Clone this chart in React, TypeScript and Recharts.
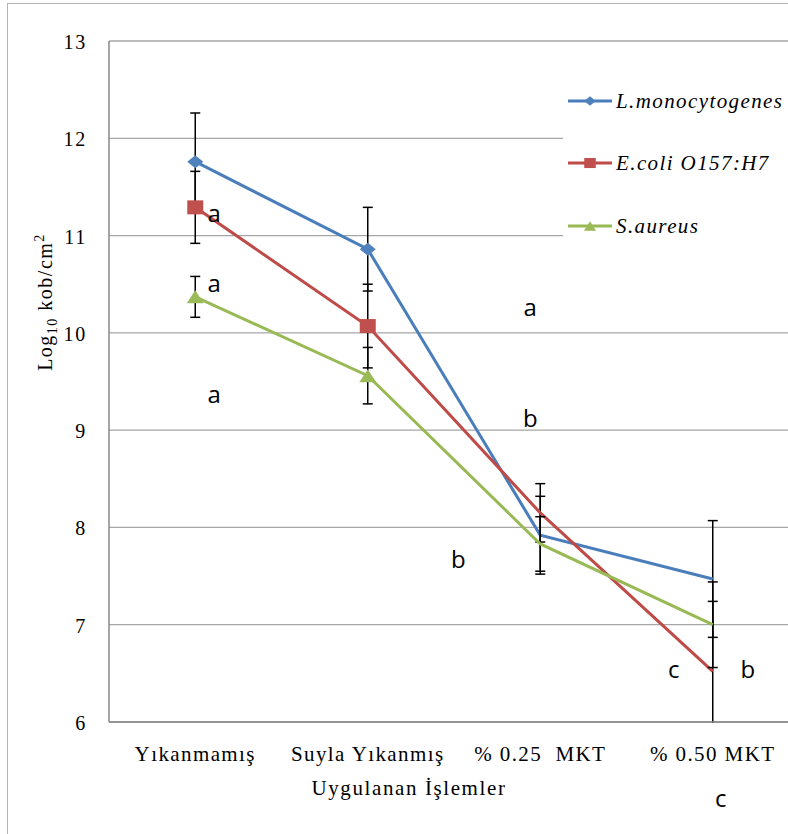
import { LineChart, Line, XAxis, YAxis, CartesianGrid, ErrorBar, ReferenceDot } from 'recharts';

const categories = ['Yıkanmamış', 'Suyla Yıkanmış', '% 0.25  MKT', '% 0.50 MKT'];
// the source only draws markers on the first two treatments
const markerShown = [true, true, false, false];

const listeria = [11.76, 10.86, 7.92, 7.47];
const listeriaErr = [0.5, 0.43, 0.4, 0.6];
const ecoli = [11.29, 10.07, 8.15, 6.52];
const ecoliErr = [0.37, 0.43, 0.3, 0.72];
const aureus = [10.37, 9.56, 7.83, 7.0];
const aureusErr = [0.21, 0.29, 0.28, 0.44];

const yTicks = [6, 7, 8, 9, 10, 11, 12, 13];

// significance letters: category, baseline value, horizontal nudge
const letterCats = [0, 0, 0, 2, 2, 2, 3, 3, 3];
const letterVals = [11.14, 10.42, 9.28, 10.17, 9.03, 7.58, 6.45, 6.45, 5.13];
const letterDx = [19, 19, 19, -10, -10, -82, -39, 35, 8];
const letterText = ['a', 'a', 'a', 'a', 'b', 'b', 'c', 'b', 'c'];

const series = [
  { key: 'lm', name: 'L.monocytogenes', color: '#4A7EBB', fill: '#4F81BD', marker: 'diamond' },
  { key: 'ec', name: 'E.coli O157:H7', color: '#BE4B48', fill: '#C0504D', marker: 'square' },
  { key: 'sa', name: 'S.aureus', color: '#98B954', fill: '#9BBB59', marker: 'triangle' },
];

const data = categories.map((name, i) => ({
  name,
  lm: listeria[i],
  lmErr: listeriaErr[i],
  ec: ecoli[i],
  ecErr: ecoliErr[i],
  sa: aureus[i],
  saErr: aureusErr[i],
}));

const SERIF = '"Liberation Serif", "Times New Roman", serif';

function markerPath(kind: string, cx: number, cy: number, s: number) {
  if (kind === 'diamond') {
    const w = 8 * s, h = 6.5 * s;
    return `M${cx},${cy - h} L${cx + w},${cy} L${cx},${cy + h} L${cx - w},${cy} Z`;
  }
  if (kind === 'square') {
    const w = 8 * s, h = 7 * s;
    return `M${cx - w},${cy - h} H${cx + w} V${cy + h} H${cx - w} Z`;
  }
  const w = 8.5 * s, h = 6.5 * s;
  return `M${cx},${cy - h} L${cx + w},${cy + h} L${cx - w},${cy + h} Z`;
}

const makeDot = (kind: string, fill: string) => (p: any) =>
  markerShown[p.index] ? (
    <path key={`dot-${kind}-${p.index}`} d={markerPath(kind, p.cx, p.cy, 1)} fill={fill} />
  ) : (
    <g key={`dot-${kind}-${p.index}`} />
  );

const XTick = (p: any) => (
  <text x={p.x} y={p.y + 39} textAnchor="middle" fontFamily={SERIF} fontSize={21}
    letterSpacing={1.4} fill="#000" style={{ whiteSpace: 'pre' }}>
    {p.payload.value}
  </text>
);

const YTick = (p: any) => (
  <text x={87} y={p.y + 8} textAnchor="end" fontFamily={SERIF} fontSize={20} letterSpacing={1.8} fill="#000">
    {p.payload.value}
  </text>
);

const YLabel = () => (
  <text x={52} y={302} transform="rotate(-90, 52, 302)" textAnchor="middle" fontFamily={SERIF}
    fontSize={20} letterSpacing={1.5} fill="#000">
    Log<tspan fontSize={14} dy={5}>10</tspan>
    <tspan dy={-5}> kob/cm</tspan>
    <tspan fontSize={14} dy={-8}>2</tspan>
  </text>
);

const XLabel = () => (
  <text x={409} y={795} textAnchor="middle" fontFamily={SERIF} fontSize={21} letterSpacing={1.6} fill="#000">
    Uygulanan İşlemler
  </text>
);

function LegendBox() {
  const rows = [101, 163, 226];
  return (
    <div style={{ position: 'absolute', left: 563, top: 66, width: 225, height: 236, background: '#fff' }}>
      {series.map((s, i) => (
        <div key={s.key} style={{ position: 'absolute', left: 5, top: rows[i] - 66 - 13, height: 26, display: 'flex', alignItems: 'center', whiteSpace: 'nowrap' }}>
          <svg width={46} height={16} style={{ display: 'block' }}>
            <line x1={0} x2={44} y1={8} y2={8} stroke={s.color} strokeWidth={3} />
            <path d={markerPath(s.marker, 22, 8, 0.72)} fill={s.fill} />
          </svg>
          <span style={{ fontFamily: SERIF, fontStyle: 'italic', fontSize: 21, letterSpacing: 1.4, marginLeft: 2 }}>{s.name}</span>
        </div>
      ))}
    </div>
  );
}

export default function App() {
  return (
    <div style={{ position: 'fixed', left: 0, top: 0, width: 788, height: 834, overflow: 'hidden', background: '#fff' }}>
      <div style={{ position: 'absolute', left: 7, top: 3, width: 900, height: 900, border: '1px solid #b4b4b4' }} />
      <div style={{ position: 'absolute', left: 0, top: 0 }}>
        <LineChart width={820} height={834} data={data} margin={{ top: 41, right: 21, bottom: 12, left: 0 }}>
          <CartesianGrid vertical={false} stroke="#a6a6a6" strokeWidth={1.3} />
          <XAxis dataKey="name" type="category" scale="band" height={100} tickSize={0} tickMargin={0}
            tick={XTick} axisLine={{ stroke: '#878787', strokeWidth: 1.5 }} tickLine={false}
            label={XLabel} interval={0} />
          <YAxis domain={[6, 13]} ticks={yTicks} allowDataOverflow width={109} tickSize={0}
            tick={YTick} axisLine={{ stroke: '#878787', strokeWidth: 1.5 }} tickLine={false}
            label={YLabel} />
          {series.map((s) => (
            <Line key={s.key} dataKey={s.key} name={s.name} stroke={s.color} strokeWidth={3}
              type="linear" dot={makeDot(s.marker, s.fill)} activeDot={false} isAnimationActive={false}>
              <ErrorBar dataKey={`${s.key}Err`} width={5} stroke="#000" strokeWidth={1.5} direction="y" />
            </Line>
          ))}
          {letterText.map((t, i) => (
            <ReferenceDot key={`l${i}`} x={categories[letterCats[i]]} y={letterVals[i]} r={0} ifOverflow="visible"
              shape={(p: any) => (
                <text x={p.cx + letterDx[i]} y={p.cy} textAnchor="middle" fontFamily='"Open Sans", sans-serif'
                  fontSize={24} fill="#000">{t}</text>
              )} />
          ))}
        </LineChart>
      </div>
      {/* error bars are not clipped by the plot area: mask the part below the x axis */}
      <div style={{ position: 'absolute', left: 109, top: 723, width: 700, height: 21, background: '#fff' }} />
      <LegendBox />
    </div>
  );
}
